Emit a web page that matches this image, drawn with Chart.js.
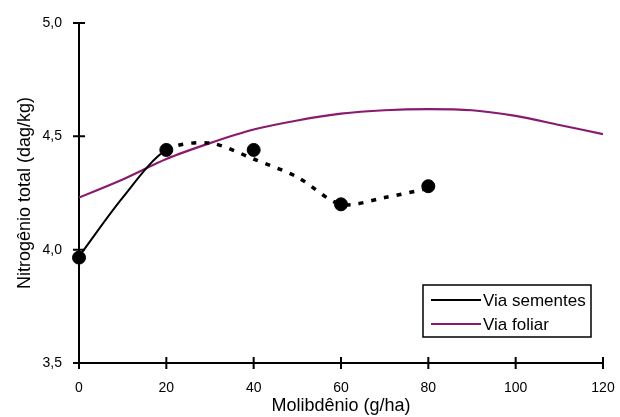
<!DOCTYPE html>
<html>
<head>
<meta charset="utf-8">
<script src="https://cdn.jsdelivr.net/npm/chart.js@4.4.0/dist/chart.umd.min.js"></script>
<style>
  html, body { margin: 0; padding: 0; background: #fff; }
  #wrap { width: 620px; height: 417px; }
</style>
</head>
<body>
<div id="wrap"><canvas id="myChart" width="620" height="417"></canvas></div>
<script>
// values
const doses = [0, 10, 20, 30, 40, 50, 60, 70, 80, 90, 100, 110, 120];
const sementesCurve = [3.97, 4.23, 4.44, 4.47, 4.40, 4.32, 4.20, 4.23, 4.27];
const foliarCurve = [4.23, 4.31, 4.40, 4.47, 4.53, 4.57, 4.60, 4.615, 4.62, 4.615, 4.59, 4.55, 4.51];
const observedDoses = [0, 20, 40, 60, 80];
const observedN = [3.965, 4.44, 4.44, 4.20, 4.28];
const yTicks = [3.5, 4.0, 4.5, 5.0];

const purple = '#8a1a6e';
const fontName = "'Liberation Sans', Arial, sans-serif";

function toPoints(xs, ys) {
  return ys.map((y, i) => ({ x: xs[i], y: y }));
}

// tick marks that cross the axis line on both sides
const crossTicks = {
  id: 'crossTicks',
  afterDraw(chart) {
    const ctx = chart.ctx;
    const xs = chart.scales.x;
    const ys = chart.scales.y;
    ctx.save();
    ctx.strokeStyle = '#000';
    ctx.lineWidth = 2;
    ctx.beginPath();
    xs.ticks.forEach(t => {
      const px = xs.getPixelForValue(t.value);
      ctx.moveTo(px, ys.bottom - 6);
      ctx.lineTo(px, ys.bottom + 6);
    });
    ys.ticks.forEach(t => {
      const py = ys.getPixelForValue(t.value);
      ctx.moveTo(xs.left - 6, py);
      ctx.lineTo(xs.left + 6, py);
    });
    ctx.stroke();
    ctx.restore();
  }
};

// boxed legend inside the plot, lower right
const boxLegend = {
  id: 'boxLegend',
  afterDraw(chart) {
    const ctx = chart.ctx;
    const items = chart.data.datasets.filter(d => d.inLegend);
    const left = 423, top = 285, w = 168, h = 52;
    ctx.save();
    ctx.fillStyle = '#fff';
    ctx.fillRect(left, top, w, h);
    ctx.strokeStyle = '#000';
    ctx.lineWidth = 1.5;
    ctx.strokeRect(left, top, w, h);
    ctx.font = '17px ' + fontName;
    ctx.textBaseline = 'middle';
    ctx.fillStyle = '#000';
    items.forEach((d, i) => {
      const y = top + 15 + i * 24;
      ctx.strokeStyle = d.borderColor;
      ctx.lineWidth = 2;
      ctx.beginPath();
      ctx.moveTo(left + 8, y);
      ctx.lineTo(left + 58, y);
      ctx.stroke();
      ctx.fillText(d.label, left + 60, y + 1);
    });
    ctx.restore();
  }
};

const ctx = document.getElementById('myChart').getContext('2d');
new Chart(ctx, {
  type: 'line',
  data: {
    datasets: [
      {
        label: 'Via sementes',
        inLegend: true,
        data: toPoints(doses, sementesCurve),
        borderColor: '#000',
        borderWidth: 2,
        pointRadius: 0,
        tension: 0.3,
        segment: {
          borderDash: c => c.p0.parsed.x >= 20 ? [5, 8] : undefined,
          borderWidth: c => c.p0.parsed.x >= 20 ? 3.5 : 2
        }
      },
      {
        label: 'Via foliar',
        inLegend: true,
        data: toPoints(doses, foliarCurve),
        borderColor: purple,
        borderWidth: 2.2,
        pointRadius: 0,
        tension: 0.3
      },
      {
        label: 'observado',
        data: toPoints(observedDoses, observedN),
        showLine: false,
        pointRadius: 6.5,
        pointBackgroundColor: '#000',
        pointBorderColor: '#000',
        clip: false
      }
    ]
  },
  options: {
    responsive: false,
    animation: false,
    layout: { padding: { top: 23, right: 17, left: 0, bottom: 0 } },
    plugins: {
      legend: { display: false },
      tooltip: { enabled: false }
    },
    scales: {
      x: {
        type: 'linear',
        min: 0,
        max: 120,
        ticks: {
          stepSize: 20,
          padding: 17,
          color: '#000',
          font: { family: fontName, size: 14 }
        },
        grid: { display: false, drawTicks: false },
        border: { display: true, color: '#000', width: 2 },
        title: {
          display: true,
          text: 'Molibdênio (g/ha)',
          color: '#000',
          font: { family: fontName, size: 18 },
          padding: { top: 0, bottom: 0 }
        },
        afterFit: s => {
          s.height = 54;
          s.paddingLeft = 0;
          s.paddingRight = 0;
        }
      },
      y: {
        min: 3.5,
        max: 5.0,
        afterBuildTicks: s => { s.ticks = yTicks.map(v => ({ value: v })); },
        ticks: {
          padding: 17,
          color: '#000',
          font: { family: fontName, size: 14 },
          callback: v => v.toFixed(1).replace('.', ',')
        },
        grid: { display: false, drawTicks: false },
        border: { display: true, color: '#000', width: 2 },
        title: {
          display: true,
          text: 'Nitrogênio total (dag/kg)',
          color: '#000',
          font: { family: fontName, size: 18 },
          padding: { top: 14, bottom: 0 }
        },
        afterFit: s => {
          s.width = 79;
          s.paddingTop = 0;
          s.paddingBottom = 0;
        }
      }
    }
  },
  plugins: [crossTicks, boxLegend]
});
</script>
</body>
</html>
